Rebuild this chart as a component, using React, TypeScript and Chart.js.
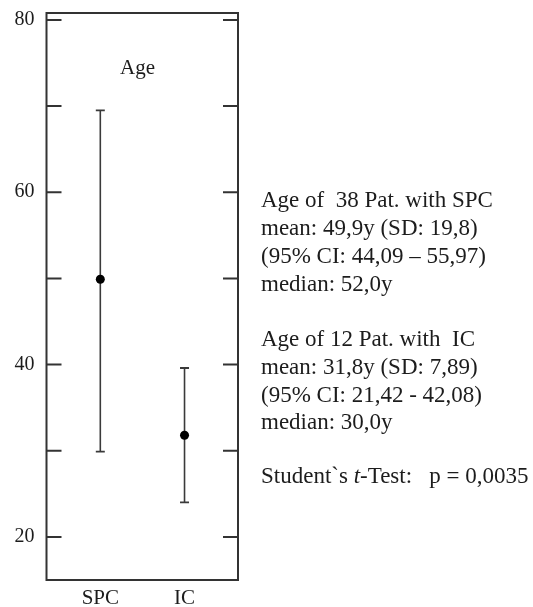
import React, { useEffect, useRef } from "react";
import { Chart, registerables } from "chart.js";

Chart.register(...registerables);

const categories = ["SPC", "IC"];
const means = [49.9, 31.8];
const lows = [29.9, 24.0];
const highs = [69.5, 39.6];
const yTickValues = [20, 30, 40, 50, 60, 70, 80];
const yLabelValues = [20, 40, 60, 80];
const panelTitle = "Age";
const statLines = [
  "Age of  38 Pat. with SPC",
  "mean: 49,9y (SD: 19,8)",
  "(95% CI: 44,09 \u2013 55,97)",
  "median: 52,0y",
  "Age of 12 Pat. with  IC",
  "mean: 31,8y (SD: 7,89)",
  "(95% CI: 21,42 - 42,08)",
  "median: 30,0y",
];
const statTops = [186, 214, 242, 270, 325, 353, 381, 408];
const testLine = { pre: "Student`s ", italic: "t", post: "-Test:   p = 0,0035" };

const FONT = '"Liberation Serif", "Times New Roman", serif';
const INK = "#1c1c1c";
const FRAME = "#333333";

const framePlugin = {
  id: "frame",
  afterDatasetsDraw(chart: any) {
    const { ctx, chartArea } = chart;
    const y = chart.scales.y;
    ctx.save();
    ctx.strokeStyle = FRAME;
    ctx.lineWidth = 2;
    ctx.strokeRect(chartArea.left, chartArea.top, chartArea.right - chartArea.left, chartArea.bottom - chartArea.top);
    const len = 15;
    y.ticks.forEach((t: any) => {
      const py = y.getPixelForValue(t.value);
      ctx.beginPath();
      ctx.moveTo(chartArea.left, py);
      ctx.lineTo(chartArea.left + len, py);
      ctx.moveTo(chartArea.right, py);
      ctx.lineTo(chartArea.right - len, py);
      ctx.stroke();
    });
    ctx.restore();
  },
};

export default function App() {
  const ref = useRef<HTMLCanvasElement | null>(null);
  useEffect(() => {
    if (!ref.current) return;
    const whiskers = categories.map((_, i) => ({
      type: "scatter" as const,
      showLine: true,
      data: [
        { x: i, y: lows[i] },
        { x: i, y: highs[i] },
      ],
      borderColor: "#3a3a3a",
      borderWidth: 1.6,
      pointStyle: "line",
      pointRadius: 4.5,
      pointBorderWidth: 1.8,
      pointBorderColor: "#3a3a3a",
      order: 1,
    }));
    const chart = new Chart(ref.current, {
      type: "scatter",
      data: {
        datasets: [
          {
            data: means.map((m, i) => ({ x: i, y: m })),
            pointStyle: "circle",
            pointRadius: 4.5,
            pointBackgroundColor: "#000000",
            pointBorderWidth: 0,
            order: 0,
          } as any,
          ...(whiskers as any),
        ],
      },
      options: {
        responsive: false,
        animation: false,
        devicePixelRatio: 1,
        layout: { padding: { top: 13, right: 295, left: 0, bottom: 0 } },
        plugins: { legend: { display: false }, tooltip: { enabled: false } },
        scales: {
          x: {
            type: "linear",
            min: -0.639,
            max: 1.635,
            grid: { display: false, drawTicks: false },
            border: { display: false },
            afterBuildTicks: (s: any) => {
              s.ticks = categories.map((_, i) => ({ value: i }));
            },
            afterFit: (s: any) => {
              s.height = 27;
              s.paddingLeft = 0;
              s.paddingRight = 0;
              s.paddingTop = 0;
              s.paddingBottom = 0;
            },
            ticks: {
              autoSkip: false,
              maxRotation: 0,
              padding: 6,
              color: INK,
              font: { family: FONT, size: 21 },
              callback: (v: any) => categories[v] ?? "",
            },
          },
          y: {
            type: "linear",
            min: 15,
            max: 80.8,
            grid: { display: false, drawTicks: false },
            border: { display: false },
            afterBuildTicks: (s: any) => {
              s.ticks = yTickValues.map((v) => ({ value: v }));
            },
            afterFit: (s: any) => {
              s.width = 46.5;
              s.paddingLeft = 0;
              s.paddingRight = 0;
              s.paddingTop = 0;
              s.paddingBottom = 0;
            },
            ticks: {
              autoSkip: false,
              padding: 12,
              color: INK,
              font: { family: FONT, size: 20 },
              callback: (v: any) => (yLabelValues.includes(v) ? String(v) : ""),
            },
          },
        },
      },
      plugins: [framePlugin],
    } as any);
    return () => chart.destroy();
  }, []);

  const textStyle: React.CSSProperties = {
    position: "absolute",
    left: 261,
    fontFamily: FONT,
    fontSize: 23,
    lineHeight: "28px",
    color: INK,
    whiteSpace: "pre",
  };

  return (
    <div style={{ position: "fixed", left: 0, top: 0, width: 533, height: 607, background: "#ffffff" }}>
      <canvas ref={ref} width={533} height={607} style={{ position: "absolute", left: 0, top: 0 }} />
      <div
        style={{
          position: "absolute",
          left: 87.5,
          width: 100,
          top: 53,
          textAlign: "center",
          fontFamily: FONT,
          fontSize: 21,
          lineHeight: "28px",
          color: INK,
        }}
      >
        {panelTitle}
      </div>
      {statLines.map((s, i) => (
        <div key={i} style={{ ...textStyle, top: statTops[i] }}>
          {s}
        </div>
      ))}
      <div style={{ ...textStyle, top: 462 }}>
        {testLine.pre}
        <i>{testLine.italic}</i>
        {testLine.post}
      </div>
    </div>
  );
}
